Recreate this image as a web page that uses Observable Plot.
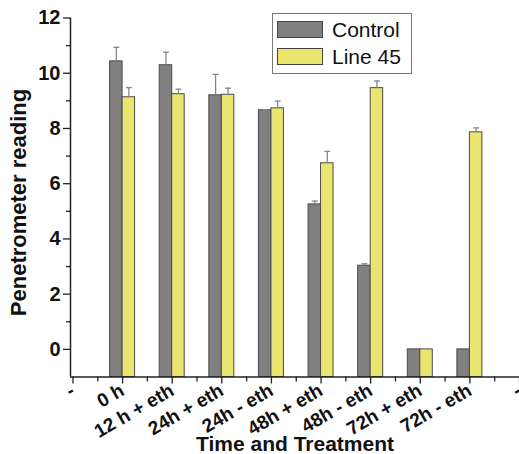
<!DOCTYPE html>
<html>
<head>
<meta charset="utf-8">
<script src="https://cdn.jsdelivr.net/npm/d3@7"></script>
<script src="https://cdn.jsdelivr.net/npm/@observablehq/plot@0.6"></script>
<style>
  html, body { margin: 0; padding: 0; background: #fff; }
  #wrap { position: relative; width: 519px; height: 454px; font-family: "Liberation Sans", Arial, sans-serif; }
  #legend { position: absolute; left: 272px; top: 13px; width: 138px; height: 59px; border: 1.5px solid #777; background: #fff; }
  .item { position: absolute; left: 4px; height: 19px; display: flex; align-items: center; }
  .sw { width: 46px; height: 17px; border: 1px solid #444; box-sizing: border-box; margin-right: 9px; }
  .lab { font-size: 21px; color: #111; }
</style>
</head>
<body>
<div id="wrap"></div>
<script>
const categories = ["0 h", "12 h + eth", "24h + eth", "24h - eth", "48h + eth", "48h - eth", "72h + eth", "72h - eth"];
const tickLabels = ["-", "0 h", "12 h + eth", "24h + eth", "24h - eth", "48h + eth", "48h - eth", "72h + eth", "72h - eth", "-"];
const control = [10.43, 10.29, 9.2, 8.66, 5.25, 3.03, 0, 0];
const controlErr = [0.51, 0.47, 0.76, 0.02, 0.12, 0.07, 0, 0];
const line45 = [9.13, 9.24, 9.22, 8.73, 6.74, 9.46, 0, 7.86];
const line45Err = [0.35, 0.18, 0.24, 0.26, 0.43, 0.26, 0, 0.16];
const series = ["Control", "Line 45"];
const colors = ["#808080", "#e9e56f"];

const rows = [];
categories.forEach((c, k) => {
  rows.push({cat: c, i: k + 1, s: 0, v: control[k], e: controlErr[k]});
  rows.push({cat: c, i: k + 1, s: 1, v: line45[k], e: line45Err[k]});
});
const bw = 0.252;
const x1 = d => d.i - bw + d.s * bw;
const x2 = d => d.i + d.s * bw;
const xc = d => d.i - bw / 2 + d.s * bw;
const errRows = rows.filter(d => d.e > 0);

const font = {fontFamily: "Liberation Sans, Arial, sans-serif", fontWeight: "bold", fill: "#111"};

const chart = Plot.plot({
  width: 519,
  height: 454,
  marginLeft: 70,
  marginRight: 0,
  marginTop: 17.5,
  marginBottom: 77.5,
  x: {type: "linear", domain: [-0.05, 9], axis: null, label: null},
  y: {domain: [-1, 12], axis: null, label: null},
  marks: [
    Plot.rect(rows, {x1, x2, y1: -1, y2: "v", fill: d => colors[d.s], stroke: "#4a4a4a", strokeWidth: 1}),
    Plot.ruleX(errRows, {x: xc, y1: "v", y2: d => d.v + d.e, stroke: "#888", strokeWidth: 1.3}),
    Plot.link(errRows, {x1: d => xc(d) - 0.06, x2: d => xc(d) + 0.06, y1: d => d.v + d.e, y2: d => d.v + d.e, stroke: "#888", strokeWidth: 1.3}),
    Plot.ruleY([-1], {x1: -0.05, x2: 9, stroke: "#222", strokeWidth: 1.5}),
    Plot.ruleX([-0.05], {y1: -1, y2: 12, stroke: "#222", strokeWidth: 1.5}),
    Plot.axisY({ticks: d3.range(0, 13, 2), label: null, tickSize: 7, tickPadding: 3, fontSize: 20, ...font, stroke: "#222", strokeWidth: 1.3, anchor: "left"}),
    Plot.axisY({ticks: d3.range(1, 12, 2), label: null, tickSize: 4, tickFormat: () => "", stroke: "#222", strokeWidth: 1.3, anchor: "left"}),
    Plot.axisX({ticks: d3.range(0, 10), label: null, tickSize: 7, tickPadding: 5, tickRotate: -30, tickFormat: i => tickLabels[i], fontSize: 19, ...font, stroke: "#222", strokeWidth: 1.3, anchor: "bottom"}),
    Plot.axisX({ticks: d3.range(0.5, 9, 1), label: null, tickSize: 5, tickFormat: () => "", stroke: "#222", strokeWidth: 1.3, anchor: "bottom"}),
    Plot.text(["Time and Treatment"], {frameAnchor: "bottom", lineAnchor: "bottom", dy: 74, fontSize: 21, ...font}),
    Plot.text(["Penetrometer reading"], {frameAnchor: "left", textAnchor: "middle", dx: -52, dy: 5, rotate: -90, fontSize: 22, ...font})
  ]
});

const wrap = document.getElementById("wrap");
wrap.appendChild(chart);
const legend = document.createElement("div");
legend.id = "legend";
series.forEach((s, k) => {
  const it = document.createElement("div");
  it.className = "item";
  it.style.top = (k === 0 ? 6 : 33) + "px";
  it.innerHTML = `<div class="sw" style="background:${colors[k]}"></div><span class="lab">${s}</span>`;
  legend.appendChild(it);
});
wrap.appendChild(legend);
</script>
</body>
</html>
